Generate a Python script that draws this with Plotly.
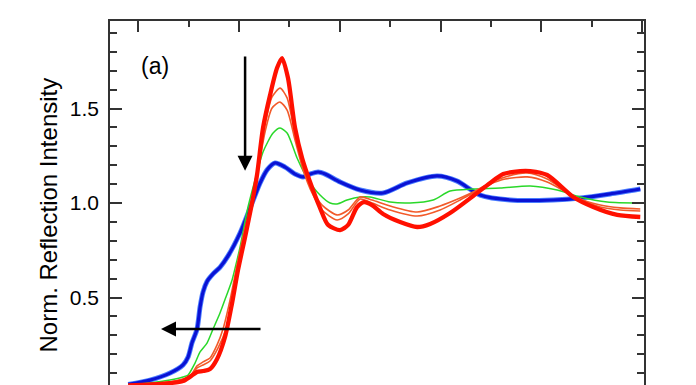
import plotly.graph_objects as go

# ---- data (x: energy-like axis, major ticks every 10; y: normalized intensity) ----
blue_x = [-1.0, 1.16, 3.15, 4.44, 4.94, 5.33, 5.83, 6.13, 6.43, 6.82, 7.42, 8.11, 8.91, 10.1, 11.29,
          12.09, 12.78, 13.58, 14.57, 15.56, 16.36, 17.05, 17.85, 18.55, 20.03, 22.02, 24.3, 26.69,
          29.67, 31.65, 33.93, 36.91, 41.19, 43.87, 46.85, 49.83]
blue_y = [0.04, 0.063, 0.10, 0.143, 0.185, 0.26, 0.333, 0.45, 0.53, 0.585, 0.625, 0.66, 0.72, 0.841, 1.0,
          1.106, 1.175, 1.212, 1.19, 1.153, 1.138, 1.153, 1.164, 1.153, 1.111, 1.069, 1.053, 1.106,
          1.143, 1.116, 1.042, 1.016, 1.016, 1.026, 1.048, 1.074]

red_x = [-1.0, 1.16, 3.15, 4.44, 5.13, 5.83, 6.43, 7.12, 7.82, 8.61, 9.31, 9.9, 10.6, 11.29, 11.79,
         12.38, 13.08, 13.77, 14.27, 14.86, 15.56, 16.26, 17.05, 18.04, 18.84, 20.03, 20.83, 21.72,
         22.42, 23.2, 24.3, 25.99, 27.68, 28.97, 30.95, 33.24, 34.93, 36.22, 37.91, 38.9, 40.59,
         43.17, 45.16, 47.54, 49.83]
red_y = [0.035, 0.04, 0.047, 0.058, 0.08, 0.106, 0.111, 0.122, 0.175, 0.291, 0.471, 0.646, 0.82, 1.0, 1.15,
         1.397, 1.571, 1.714, 1.767, 1.661, 1.397, 1.238, 1.111, 0.974, 0.884, 0.857, 0.884, 0.979,
         1.005, 0.989, 0.942, 0.899, 0.873, 0.889, 0.947, 1.037, 1.106, 1.153, 1.169, 1.169, 1.148,
         1.032, 0.979, 0.937, 0.926]

green_x = [-1.0, 1.16, 3.15, 4.44, 4.94, 5.63, 6.13, 6.82, 7.42, 8.11, 8.7, 9.31, 9.8, 10.1, 10.89,
           11.59, 12.38, 13.38, 14.07, 14.77, 15.76, 16.75, 18.04, 19.04, 19.73, 20.73, 22.02, 23.0,
           25.0, 26.99, 29.27, 30.95, 33.24, 35.92, 38.9, 41.58, 43.87, 46.55, 49.83]
green_y = [0.036, 0.048, 0.063, 0.079, 0.09, 0.153, 0.212, 0.259, 0.333, 0.418, 0.503, 0.593, 0.698, 0.767, 0.979,
           1.122, 1.27, 1.37, 1.397, 1.37, 1.238, 1.132, 1.042, 1.0, 0.995, 1.016, 1.032, 1.032,
           1.005, 1.0, 1.016, 1.063, 1.074, 1.079, 1.09, 1.069, 1.032, 1.005, 1.0]

orangeA_x = [-1.0, 3.15, 5.13, 5.83, 6.43, 7.12, 7.82, 8.41, 9.11, 9.8, 10.6, 11.29, 11.89, 12.58, 13.28,
             14.07, 14.77, 15.56, 16.36, 17.25, 18.24, 19.73, 20.83, 22.02, 23.2, 25.0, 27.68, 29.96,
             31.95, 33.24, 34.93, 36.42, 38.6, 40.59, 43.37, 45.86, 47.84, 49.83]
orangeA_y = [0.036, 0.053, 0.085, 0.138, 0.159, 0.18, 0.249, 0.333, 0.487, 0.672, 0.868, 1.016, 1.185, 1.413, 1.561,
             1.608, 1.556, 1.36, 1.185, 1.069, 0.989, 0.937, 0.963, 1.032, 1.016, 0.984, 0.952, 0.984,
             1.026, 1.058, 1.106, 1.138, 1.159, 1.127, 1.032, 0.989, 0.974, 0.968]

orangeB_x = [-1.0, 3.15, 5.13, 5.83, 6.43, 7.12, 7.92, 8.7, 9.31, 10.0, 10.7, 11.29, 11.89, 12.58, 13.28,
             14.07, 14.77, 15.56, 16.36, 17.25, 18.24, 19.73, 20.83, 22.02, 23.2, 25.0, 27.68, 29.96,
             31.95, 33.24, 34.93, 36.42, 38.6, 40.59, 43.37, 45.86, 47.84, 49.83]
orangeB_y = [0.036, 0.053, 0.08, 0.127, 0.143, 0.164, 0.233, 0.333, 0.487, 0.672, 0.868, 1.01, 1.175, 1.376, 1.503,
             1.534, 1.492, 1.333, 1.175, 1.053, 0.963, 0.91, 0.942, 1.021, 1.0, 0.963, 0.931, 0.963,
             1.016, 1.053, 1.1, 1.127, 1.138, 1.111, 1.032, 0.979, 0.963, 0.958]

y_ticks = [0.0, 0.5, 1.0, 1.5]
y_ticklabels = ["0.0", "0.5", "1.0", "1.5"]
x_range = [-2.81, 50.2]
y_range = [0.037, 1.963]

FONT = "Liberation Sans, Arial, Helvetica, sans-serif"

fig = go.Figure()

def add(x, y, color, width):
    fig.add_trace(go.Scatter(x=x, y=y, mode="lines",
                             line=dict(color=color, width=width, shape="spline", smoothing=0.7),
                             hoverinfo="skip", showlegend=False))

add(blue_x, blue_y, "#4a7dff", 5.0)
add(blue_x, blue_y, "#0a12d4", 3.2)
add(green_x, green_y, "#2ad82a", 1.5)
add(orangeB_x, orangeB_y, "#f25a2a", 1.6)
add(orangeA_x, orangeA_y, "#f25a2a", 1.6)
add(red_x, red_y, "#ff1000", 4.3)

# arrows
fig.add_annotation(x=10.6, y=1.17, ax=10.6, ay=1.783, xref="x", yref="y", axref="x", ayref="y",
                   showarrow=True, arrowhead=2, arrowsize=1.2, arrowwidth=2.5, arrowcolor="black", text="")
fig.add_annotation(x=2.25, y=0.333, ax=12.28, ay=0.333, xref="x", yref="y", axref="x", ayref="y",
                   showarrow=True, arrowhead=2, arrowsize=1.2, arrowwidth=2.5, arrowcolor="black", text="")

# panel label
fig.add_annotation(x=1.67, y=1.725, xref="x", yref="y", text="(a)", showarrow=False,
                   font=dict(size=23, color="black", family=FONT))

# y title
fig.add_annotation(x=-0.117, y=0.467, xref="paper", yref="paper", text="Norm. Reflection Intensity",
                   textangle=-90, showarrow=False, xanchor="center", yanchor="middle",
                   font=dict(size=24, color="black", family=FONT))

# partially visible 0.0 tick label at the cut-off bottom of the original figure
fig.add_annotation(x=-0.017, y=-0.021, xref="paper", yref="paper", text=y_ticklabels[0], showarrow=False,
                   xanchor="right", yanchor="middle", font=dict(size=21, color="black", family=FONT))

# page body has an 8px default margin, so the figure is sized to end at the window edge
fig.update_layout(
    width=688, height=377,
    margin=dict(l=102, r=52, t=13, b=0),
    paper_bgcolor="white", plot_bgcolor="white",
    font=dict(family=FONT, size=21, color="black"),
    xaxis=dict(range=x_range, side="top", showline=True, linecolor="#333", linewidth=1.5,
               ticks="inside", ticklen=11, tickwidth=1.5, tickcolor="#333", dtick=10, tick0=0,
               minor=dict(dtick=5, ticklen=6, tickwidth=1.5, tickcolor="#333", ticks="inside"),
               showticklabels=False, showgrid=False, zeroline=False),
    yaxis=dict(range=y_range, showline=True, linecolor="#333", linewidth=1.5, mirror="ticks",
               ticks="inside", ticklen=12, tickwidth=1.5, tickcolor="#333",
               tickvals=y_ticks, ticktext=y_ticklabels, ticklabelstandoff=5,
               minor=dict(dtick=0.1, tick0=0, ticklen=7, tickwidth=1.5, tickcolor="#333", ticks="inside"),
               showgrid=False, zeroline=False, tickfont=dict(size=21)),
)

fig.write_html("out.html")
